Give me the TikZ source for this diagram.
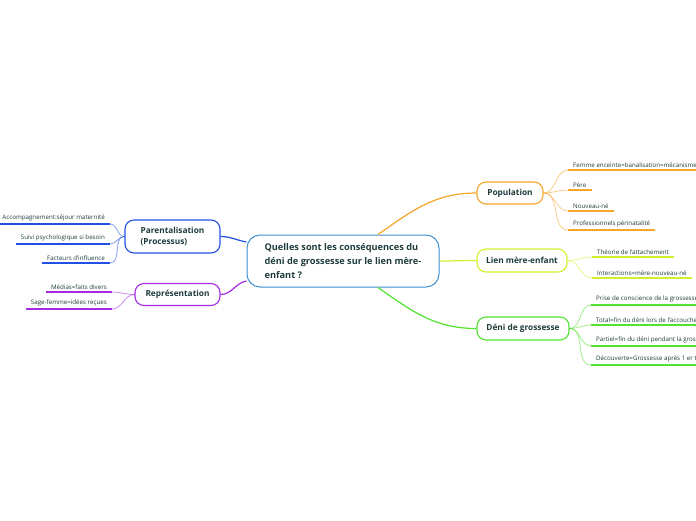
\documentclass[tikz,border=0pt]{standalone}
\usepackage{fontspec}
\setmainfont{Open Sans}
\usetikzlibrary{positioning}
\definecolor{inkteal}{HTML}{1E3B3B}
\definecolor{centreblue}{HTML}{3D8FD0}
\definecolor{popcol}{HTML}{F5A52A}
\definecolor{liencol}{HTML}{D2EE2E}
\definecolor{denicol}{HTML}{52E330}
\definecolor{parcol}{HTML}{2150E2}
\definecolor{repcol}{HTML}{A52AE0}
\tikzset{
	topic/.style={draw=#1, line width=1.1pt, rounded corners=9pt, text=inkteal,
			font=\fontsize{8.3}{11.5}\selectfont\bfseries, align=left, inner xsep=9pt},
	leaf/.style={text=inkteal, font=\fontsize{6.2}{7}\selectfont, inner xsep=5pt, inner ysep=2.5pt},
	uline/.style={draw=#1, line width=1.5pt},
	twig/.style={draw=#1, line width=0.8pt, opacity=0.55},
	branch/.style={draw=#1, line width=1.2pt}
}

\begin{document}
\begin{tikzpicture}[x=1pt, y=-1pt]
	\useasboundingbox (0,0) rectangle (696,520);
	\clip (0,0) rectangle (696,520);

	% centre
	\node [draw=centreblue, line width=1pt, rounded corners=13pt, text=inkteal,
		minimum width=192pt, minimum height=52pt, align=left,
		font=\fontsize{9.2}{14}\selectfont\bfseries] (centre) at (343,261)
		{Quelles sont les conséquences du\\déni de grossesse sur le lien mère-\\enfant ?};

	% topics
	\node [topic=popcol, minimum width=66pt, minimum height=22pt] (pop) at (510,193) {Population};
	\node [topic=liencol, minimum width=90pt, minimum height=23pt] (lien) at (522,260.5) {Lien mère-enfant};
	\node [topic=denicol, minimum width=92pt, minimum height=23pt] (deni) at (523,328.5) {Déni de grossesse};
	\node [topic=parcol, minimum width=95pt, minimum height=33pt] (par) at (172.5,236.5) {Parentalisation\\(Processus)};
	\node [topic=repcol, minimum width=85pt, minimum height=22pt] (rep) at (177.5,294.5) {Représentation};

	\draw [branch=popcol] ([xshift=35pt]centre.north) to[out=35, in=180] (pop.west);
	\draw [branch=liencol] (centre.east) to[out=0, in=180] (lien.west);
	\draw [branch=denicol] ([xshift=35pt]centre.south) to[out=-35, in=180] (deni.west);
	\draw [branch=parcol] ([yshift=19pt]centre.west) to[out=170, in=0] (par.east);
	\draw [branch=repcol] ([yshift=-20pt]centre.west) to[out=190, in=0] (rep.east);

	% leaves, right side
	\foreach \txt/\yy [count=\i] in {{Femme enceinte=banalisation=mécanisme de défense}/170, {Père}/190,
			{Nouveau-né}/211, {Professionnels périnatalité}/230} {
		\node [leaf, anchor=south west] (pop\i) at (568,\yy) {\txt};
		\draw [uline=popcol] (pop\i.south west) -- (pop\i.south east);
		\draw [twig=popcol] (pop.east) to[out=0, in=180] (pop\i.south west);
	}
	\foreach \txt/\yy [count=\i] in {{Théorie de l'attachement}/257, {Interactions=mère-nouveau-né}/278} {
		\node [leaf, anchor=south west] (lien\i) at (592,\yy) {\txt};
		\draw [uline=liencol] (lien\i.south west) -- (lien\i.south east);
		\draw [twig=liencol] (lien.east) to[out=0, in=180] (lien\i.south west);
	}
	\foreach \txt/\yy [count=\i] in {{Prise de conscience de la grossesse}/305,
			{Total=fin du déni lors de l'accouchement}/325,
			{Partiel=fin du déni pendant la grossesse}/346,
			{Découverte=Grossesse après 1 er trimestre}/365} {
		\node [leaf, anchor=south west] (deni\i) at (591,\yy) {\txt};
		\draw [uline=denicol] (deni\i.south west) -- (deni\i.south east);
		\draw [twig=denicol] (deni.east) to[out=0, in=180] (deni\i.south west);
	}

	% leaves, left side
	\foreach \txt/\yy [count=\i] in {{Accompagnement:séjour maternité}/224,
			{Suivi psychologique si besoin}/244, {Facteurs d'influence}/263} {
		\node [leaf, anchor=south east] (par\i) at (110,\yy) {\txt};
		\draw [uline=parcol] (par\i.south west) -- (par\i.south east);
		\draw [twig=parcol] (par.west) to[out=180, in=0] (par\i.south east);
	}
	\foreach \txt/\yy [count=\i] in {{Médias=faits divers}/292, {Sage-femme=idées reçues}/309} {
		\node [leaf, anchor=south east] (rep\i) at (112,\yy) {\txt};
		\draw [uline=repcol] (rep\i.south west) -- (rep\i.south east);
		\draw [twig=repcol] (rep.west) to[out=180, in=0] (rep\i.south east);
	}
\end{tikzpicture}
\end{document}
